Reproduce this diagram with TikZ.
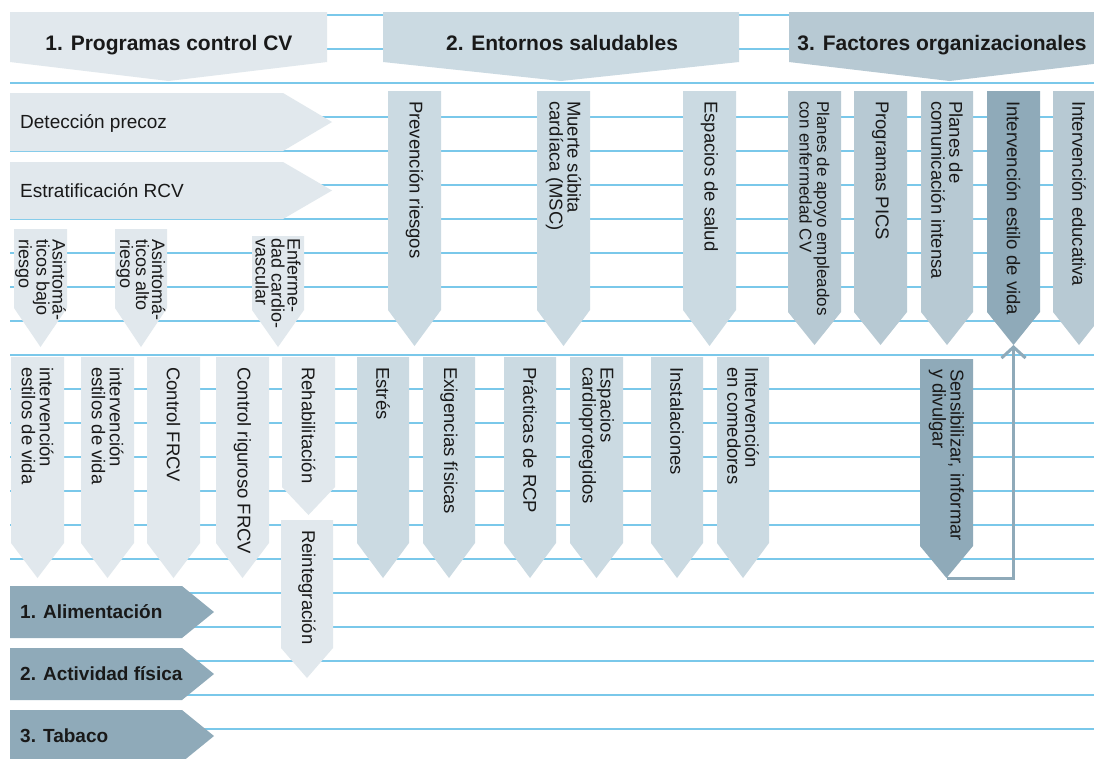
\documentclass[tikz,border=0pt]{standalone}
\usepackage{fontspec}
\setmainfont{Liberation Sans}
\usetikzlibrary{arrows.meta}

\definecolor{paleblue}{RGB}{225,232,237}
\definecolor{midblue}{RGB}{203,218,226}
\definecolor{greyblue}{RGB}{183,201,211}
\definecolor{darkblue}{RGB}{143,170,185}
\definecolor{ruleblue}{RGB}{122,200,234}
\definecolor{ink}{RGB}{25,25,25}

\tikzset{
  gridrule/.style={draw=ruleblue, line width=1.3pt},
  vlabel/.style={rotate=-90, anchor=west, align=left, inner sep=0pt, text=ink,
                 font=\fontsize{18.5}{18}\selectfont},
  tightlines/.style={font=\fontsize{18}{16}\selectfont},
  smalllines/.style={font=\fontsize{17}{17.5}\selectfont},
  hlabel/.style={anchor=base west, inner sep=0pt, text=ink,
                 font=\fontsize{19}{19}\selectfont},
  boldlabel/.style={hlabel, font=\bfseries\fontsize{19}{19}\selectfont},
  headlabel/.style={anchor=base, inner sep=0pt, text=ink,
                    font=\bfseries\fontsize{21}{22}\selectfont},
  feedback/.style={draw=darkblue, line width=3pt},
}

% gap between the top of a vertical panel and the start of its text
\def\tgap{10}

% vertical panel: name, left, right, top, body bottom, tip, colour, label options, text
\newcommand\vpanel[9]{%
  \fill[#7] (#2,#4) -- (#3,#4) -- (#3,#5) -- ({(#2+#3)/2},#6) -- (#2,#5) -- cycle;
  \coordinate (#1-tip) at ({(#2+#3)/2},#6);
  \node[vlabel,#8] (#1) at ({(#2+#3)/2},#4+\tgap) {#9};
}

% horizontal panel: name, top, bottom, body right, tip x, colour, label style, text
\newcommand\hpanel[8]{%
  \fill[#6] (10,#2) -- (#4,#2) -- (#5,{(#2+#3)/2}) -- (#4,#3) -- (10,#3) -- cycle;
  \node[#7] (#1) at (20,{(#2+#3)/2+6.5}) {#8};
}

% column header: name, left, right, colour, text x, text
\newcommand\colhead[6]{%
  \fill[#4] (#2,12) -- (#3,12) -- (#3,62) -- ({(#2+#3)/2},81) -- (#2,62) -- cycle;
  \node[headlabel] (#1) at (#5,50) {#6};
}

\begin{document}
\begin{tikzpicture}[x=1pt, y=-1pt]
  \useasboundingbox (0,0) rectangle (1094,758);
  \clip (0,0) rectangle (1094,758);
  \fill[white] (0,0) rectangle (1094,758);

  % ruled background
  \foreach \k in {0,...,21}
    \draw[gridrule] (10,15+34*\k) -- (1094,15+34*\k);

  % column headers
  \colhead{h1}{10}{327}{paleblue}{169}{1. Programas control CV}
  \colhead{h2}{383}{739}{midblue}{562}{2. Entornos saludables}
  \colhead{h3}{789}{1110}{greyblue}{942}{3. Factores organizacionales}

  % 1. Programas control CV
  \hpanel{det}{93}{151}{283}{332}{paleblue}{hlabel}{Detección precoz}
  \hpanel{estrat}{162}{219}{283}{332}{paleblue}{hlabel}{Estratificación RCV}

  \vpanel{asb}{14}{67}{229}{308}{347}{paleblue}{tightlines}{Asintomá-\\ticos bajo\\riesgo}
  \vpanel{asa}{115}{167}{229}{308}{347}{paleblue}{tightlines}{Asintomá-\\ticos alto\\riesgo}
  \def\tgap{2}
  \vpanel{enf}{252}{304}{236}{310}{347}{paleblue}{tightlines}{Enferme-\\dad cardio-\\vascular}
  \def\tgap{10}

  \vpanel{ivb}{11}{64}{357}{543}{578}{paleblue}{}{intervención\\estilos de vida}
  \vpanel{iva}{81}{134}{357}{543}{578}{paleblue}{}{intervención\\estilos de vida}
  \vpanel{cfrcv}{147}{200}{357}{543}{578}{paleblue}{}{Control FRCV}
  \vpanel{crig}{216}{269}{357}{543}{578}{paleblue}{}{Control riguroso FRCV}
  \vpanel{rehab}{282}{335}{357}{487}{515}{paleblue}{}{Rehabilitación}
  \vpanel{reint}{281}{333}{520}{648}{678}{paleblue}{}{Reintegración}

  \hpanel{alim}{586}{638}{182}{214}{darkblue}{boldlabel}{1. Alimentación}
  \hpanel{activ}{648}{700}{182}{214}{darkblue}{boldlabel}{2. Actividad física}
  \hpanel{tabaco}{710}{762}{182}{214}{darkblue}{boldlabel}{3. Tabaco}

  % 2. Entornos saludables
  \vpanel{prev}{388}{441}{91}{310}{346}{midblue}{}{Prevención riesgos}
  \vpanel{msc}{537}{590}{91}{310}{346}{midblue}{}{Muerte súbita\\cardíaca (MSC)}
  \vpanel{espsal}{683}{736}{91}{310}{346}{midblue}{}{Espacios de salud}

  \vpanel{estres}{357}{409}{357}{543}{578}{midblue}{}{Estrés}
  \vpanel{exig}{423}{475}{357}{543}{578}{midblue}{}{Exigencias físicas}
  \vpanel{rcp}{504}{556}{357}{543}{578}{midblue}{}{Prácticas de RCP}
  \vpanel{cardio}{570}{623}{357}{543}{578}{midblue}{}{Espacios\\cardioprotegidos}
  \vpanel{inst}{651}{703}{357}{543}{578}{midblue}{}{Instalaciones}
  \vpanel{comed}{717}{769}{357}{543}{578}{midblue}{}{Intervención\\en comedores}

  % 3. Factores organizacionales
  \vpanel{apoyo}{788}{841}{91}{312}{345}{greyblue}{smalllines}{Planes de apoyo empleados\\con enfermedad CV}
  \vpanel{pics}{854}{907}{91}{312}{345}{greyblue}{}{Programas PICS}
  \vpanel{comun}{921}{973}{91}{312}{345}{greyblue}{}{Planes de\\comunicación intensa}
  \vpanel{estilo}{987}{1040}{91}{312}{345}{darkblue}{}{Intervención estilo de vida}
  \vpanel{educ}{1053}{1105}{91}{312}{345}{greyblue}{}{Intervención educativa}

  \vpanel{sens}{920}{973}{359}{546}{578}{darkblue}{}{Sensibilizar, informar\\y divulgar}

  % feedback loop
  \draw[feedback, -{Straight Barb[length=11pt, width=24pt]}] (sens-tip) -| (estilo-tip);
\end{tikzpicture}
\end{document}
